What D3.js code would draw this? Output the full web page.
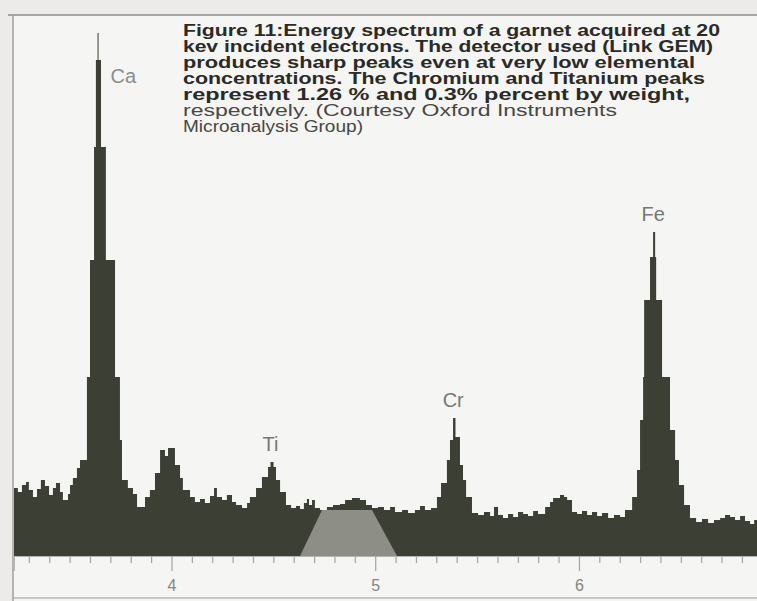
<!DOCTYPE html>
<html>
<head>
<meta charset="utf-8">
<script src="https://cdn.jsdelivr.net/npm/d3@7"></script>
<style>
  body { margin: 0; background: #ecebe9; }
  svg { display: block; }
</style>
</head>
<body>
<svg id="chart" width="757" height="601"></svg>
<script>
// Spectrum as a step histogram: left edge of each channel group (keV) and its count.
const energy = [
  3.227, 3.246, 3.266, 3.286, 3.300, 3.320, 3.340, 3.359, 3.379, 3.399,
  3.418, 3.433, 3.453, 3.467, 3.492, 3.502, 3.516, 3.536, 3.551, 3.585,
  3.600, 3.620, 3.629, 3.637, 3.642, 3.654, 3.678, 3.723, 3.747, 3.757,
  3.786, 3.811, 3.831, 3.870, 3.894, 3.919, 3.944, 3.968, 3.983, 4.017,
  4.042, 4.056, 4.091, 4.115, 4.140, 4.164, 4.189, 4.209, 4.223, 4.248,
  4.272, 4.297, 4.317, 4.346, 4.371, 4.385, 4.415, 4.444, 4.474, 4.486,
  4.501, 4.513, 4.533, 4.562, 4.587, 4.611, 4.631, 4.650, 4.665, 4.675,
  4.690, 4.704, 4.729, 4.763, 4.793, 4.827, 4.852, 4.886, 4.925, 4.955,
  4.984, 5.014, 5.043, 5.073, 5.097, 5.132, 5.161, 5.195, 5.220, 5.244,
  5.274, 5.303, 5.323, 5.352, 5.367, 5.382, 5.394, 5.416, 5.431, 5.446,
  5.475, 5.505, 5.534, 5.564, 5.583, 5.603, 5.627, 5.652, 5.677, 5.701,
  5.726, 5.750, 5.775, 5.799, 5.834, 5.858, 5.873, 5.907, 5.927, 5.942,
  5.966, 5.991, 6.015, 6.040, 6.064, 6.089, 6.113, 6.143, 6.172, 6.202,
  6.226, 6.261, 6.285, 6.300, 6.315, 6.320, 6.349, 6.364, 6.374, 6.379,
  6.408, 6.447, 6.472, 6.491, 6.516, 6.545, 6.575, 6.604, 6.634, 6.663,
  6.693, 6.717, 6.742, 6.766, 6.791, 6.815, 6.840, 6.860
];
const counts = [
   680,  640,  710,  740,  660,  590,  670,  760,  700,  610,
   680,  730,  640,  560,  620,  710,  780,  880,  960, 1790,
  2960, 4090, 4960, 5230, 4960, 4090, 2960, 1790, 1160,  760,
   680,  620,  490,  590,  660,  830, 1060, 1000, 1080,  910,
   780,  660,  590,  540,  570,  530,  600,  680,  590,  560,
   610,  540,  510,  480,  530,  590,  680,  790,  890,  940,
   890,  760,  640,  510,  480,  500,  470,  530,  570,  510,
   560,  480,  460,  490,  510,  520,  560,  580,  560,  510,
   480,  490,  460,  490,  440,  460,  430,  460,  500,  460,
   480,  590,  730,  960, 1160, 1380, 1190,  910,  760,  590,
   430,  410,  440,  400,  490,  410,  380,  420,  390,  440,
   420,  400,  450,  420,  490,  540,  580,  610,  590,  560,
   440,  420,  450,  410,  440,  400,  430,  380,  410,  390,
   460,  590,  860, 1360, 1790, 2560, 2990, 3240, 2990, 2560,
  1790, 1260,  960,  710,  510,  380,  340,  370,  330,  360,
   380,  410,  390,  360,  400,  350,  320,  360
];
const endEnergy = 6.874;

// Lighter band drawn over the continuum between Ti and 5 keV.
const shadeEnergy = [4.631, 4.739, 4.984, 5.107];
const shadeCounts = [0, 460, 460, 0];

// Element peaks
const peakNames  = ["Ca", "Ti", "Cr", "Fe"];
const peakEnergy = [3.637, 4.486, 5.383, 6.364];
const peakCounts = [5230, 940, 1380, 3240];

const majorTicks = [4, 5, 6];

const captionLines = [
  "Figure 11:Energy spectrum of a garnet acquired at 20",
  "kev incident electrons. The detector used (Link GEM)",
  "produces sharp peaks even at very low elemental",
  "concentrations. The Chromium and Titanium peaks",
  "represent 1.26 % and 0.3% percent by weight,",
  "respectively. (Courtesy Oxford Instruments",
  "Microanalysis Group)"
];
const captionWidths = [537, 530, 512, 522, 507, 434, 180];

const svg = d3.select("#chart");
const W = 757, H = 601;

const x = d3.scaleLinear().domain([3.227, endEnergy]).range([14, W]);
const y = d3.scaleLinear().domain([0, 5400]).range([556, 16]);

// Page and frame
svg.append("rect").attr("x", 13).attr("y", 15).attr("width", W - 13).attr("height", H - 15)
  .attr("fill", "#f5f5f3");
svg.append("line").attr("x1", 8).attr("x2", W).attr("y1", 15).attr("y2", 15)
  .attr("stroke", "#8d8d8a").attr("stroke-width", 1.6);
svg.append("line").attr("x1", 13).attr("x2", 13).attr("y1", 15).attr("y2", H)
  .attr("stroke", "#9a9a97").attr("stroke-width", 1.4);
svg.append("line").attr("x1", 13).attr("x2", W).attr("y1", 598).attr("y2", 598)
  .attr("stroke", "#9a9a97").attr("stroke-width", 1.2);

// Spectrum
const pts = energy.map((e, i) => ({ e, c: counts[i] }));
pts.push({ e: endEnergy, c: counts[counts.length - 1] });

const area = d3.area()
  .x(d => x(d.e))
  .y0(y(0))
  .y1(d => y(d.c))
  .curve(d3.curveStepAfter);

svg.append("path").datum(pts)
  .attr("d", area)
  .attr("fill", "#3c3f34");

// Shaded band
const shade = shadeEnergy.map((e, i) => [x(e), y(shadeCounts[i])]);
svg.append("path")
  .attr("d", d3.line()(shade) + "Z")
  .attr("fill", "#9b9c94")
  .attr("opacity", 0.85);

// Energy axis: minor ticks every 0.1 keV, labelled majors
const minor = d3.range(33, 69).map(v => v / 10).filter(v => !majorTicks.includes(v));
const gMinor = svg.append("g").attr("transform", `translate(0,${y(0)})`)
  .call(d3.axisBottom(x).tickValues(minor).tickSize(7).tickFormat(""));
const gMajor = svg.append("g").attr("transform", `translate(0,${y(0)})`)
  .call(d3.axisBottom(x).tickValues(majorTicks).tickSize(15).tickPadding(9).tickFormat(d3.format("d")));
[gMinor, gMajor].forEach(g => {
  g.select(".domain").attr("stroke", "#b5b5b0").attr("stroke-width", 1);
  g.selectAll(".tick line").attr("stroke", "#a3a39f").attr("stroke-width", 1.2);
});
gMajor.selectAll(".tick text")
  .attr("fill", "#85857f")
  .attr("font-family", "Liberation Sans, Arial, sans-serif")
  .attr("font-size", 16);

// Peak labels
svg.append("g").selectAll("text").data(peakNames).join("text")
  .attr("x", (d, i) => i === 0 ? x(peakEnergy[i]) + 13 : x(peakEnergy[i]))
  .attr("y", (d, i) => i === 0 ? 83 : y(peakCounts[i]) - 11)
  .attr("text-anchor", (d, i) => i === 0 ? "start" : "middle")
  .attr("font-family", "Liberation Sans, Arial, sans-serif")
  .attr("font-size", 20)
  .attr("fill", (d, i) => i === 0 ? "#8c8c88" : "#777773")
  .text(d => d);

// Caption
svg.append("g").selectAll("text").data(captionLines).join("text")
  .attr("x", 183)
  .attr("y", (d, i) => 36 + i * 16)
  .attr("textLength", (d, i) => captionWidths[i])
  .attr("lengthAdjust", "spacingAndGlyphs")
  .attr("font-family", "Liberation Sans, Arial, sans-serif")
  .attr("font-size", 16)
  .attr("font-weight", (d, i) => i < 5 ? "bold" : "normal")
  .attr("fill", (d, i) => i < 5 ? "#2a2a27" : "#474743")
  .text(d => d);
</script>
</body>
</html>
